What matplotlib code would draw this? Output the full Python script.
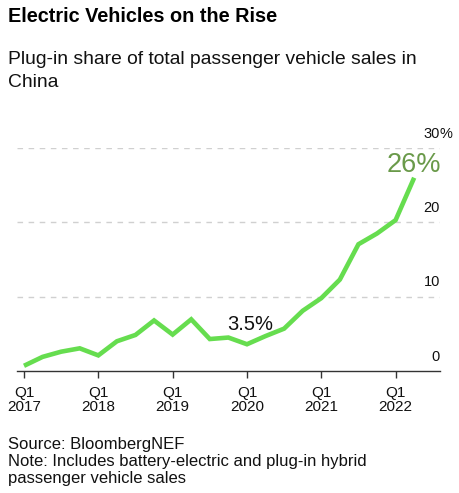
import matplotlib
matplotlib.use("Agg")
import matplotlib.pyplot as plt

plt.rcParams['font.family'] = ['Liberation Sans', 'DejaVu Sans']

# Data: quarterly plug-in share (%), Q1 2017 .. Q2 2022
quarters = ["Q1 2017", "Q2 2017", "Q3 2017", "Q4 2017",
            "Q1 2018", "Q2 2018", "Q3 2018", "Q4 2018",
            "Q1 2019", "Q2 2019", "Q3 2019", "Q4 2019",
            "Q1 2020", "Q2 2020", "Q3 2020", "Q4 2020",
            "Q1 2021", "Q2 2021", "Q3 2021", "Q4 2021",
            "Q1 2022", "Q2 2022"]
share = [0.7, 1.9, 2.6, 3.05,
         2.1, 4.0, 4.85, 6.8,
         4.9, 6.95, 4.3, 4.5,
         3.6, 4.7, 5.7, 8.1,
         9.8, 12.3, 17.05, 18.5,
         20.3, 26.0]
xtick_labels = ["Q1\n2017", "Q1\n2018", "Q1\n2019", "Q1\n2020", "Q1\n2021", "Q1\n2022"]
ytick_values = [0, 10, 20, 30]
ytick_labels = ["0", "10", "20", "30"]

W, H = 460, 493
fig = plt.figure(figsize=(W / 100, H / 100), dpi=100)
ax = fig.add_axes([17 / W, 1 - 371 / H, 423 / W, (371 - 148) / H])

x = list(range(len(share)))
ax.plot(x, share, color="#66dd4f", lw=3.3, solid_joinstyle="miter",
        solid_capstyle="butt", clip_on=False, zorder=3)

ax.set_xlim(-0.377, 22.39)
ax.set_ylim(0, 30)

for s in ["top", "right", "left"]:
    ax.spines[s].set_visible(False)
ax.spines["bottom"].set_color("#333333")
ax.spines["bottom"].set_linewidth(1.0)

ax.set_yticks([])
for v in ytick_values[1:]:
    ax.axhline(v, color="#d0d0d0", lw=1.0, ls=(0, (4, 4)), zorder=1)

tick_pos = [quarters.index(l.replace("\n", " ")) for l in xtick_labels]
ax.set_xticks(tick_pos)
ax.set_xticklabels(xtick_labels, fontsize=11, linespacing=0.95)
ax.tick_params(axis="x", length=5, width=1, color="#333333", pad=6,
               labelcolor="#111111")

# right-side y labels, sitting above gridlines
trans = ax.get_yaxis_transform()
for v, lab in zip(ytick_values, ytick_labels):
    ax.text(0.9995, v + 1.0, lab, transform=trans, ha="right", va="bottom",
            fontsize=10.5, color="#111111")
    if v == 30:
        ax.text(0.9995, v + 1.0, "%", transform=trans, ha="left", va="bottom",
                fontsize=10.5, color="#111111")

# annotations
ax.text(x[-1], share[-1] + 0.8, "26%", ha="center", va="baseline",
        fontsize=19.5, color="#6a9a4a")
ax.text(x[12] + 0.19, 5.5, "3.5%", ha="center", va="baseline",
        fontsize=14.5, color="#111111")

# titles
fig.text(8 / W, 1 - 22 / H, "Electric Vehicles on the Rise", fontsize=14.3,
         fontweight="bold", va="baseline", ha="left", color="#000000")
fig.text(8 / W, 1 - 64 / H, "Plug-in share of total passenger vehicle sales in",
         fontsize=13.9, va="baseline", ha="left", color="#111111")
fig.text(8 / W, 1 - 87 / H, "China",
         fontsize=13.9, va="baseline", ha="left", color="#111111")

fig.text(8 / W, 1 - 449 / H, "Source: BloombergNEF", fontsize=12,
         va="baseline", ha="left", color="#111111")
fig.text(8 / W, 1 - 466 / H, "Note: Includes battery-electric and plug-in hybrid",
         fontsize=12, va="baseline", ha="left", color="#111111")
fig.text(8 / W, 1 - 483 / H, "passenger vehicle sales", fontsize=12,
         va="baseline", ha="left", color="#111111")

fig.savefig("out.png", dpi=100)
